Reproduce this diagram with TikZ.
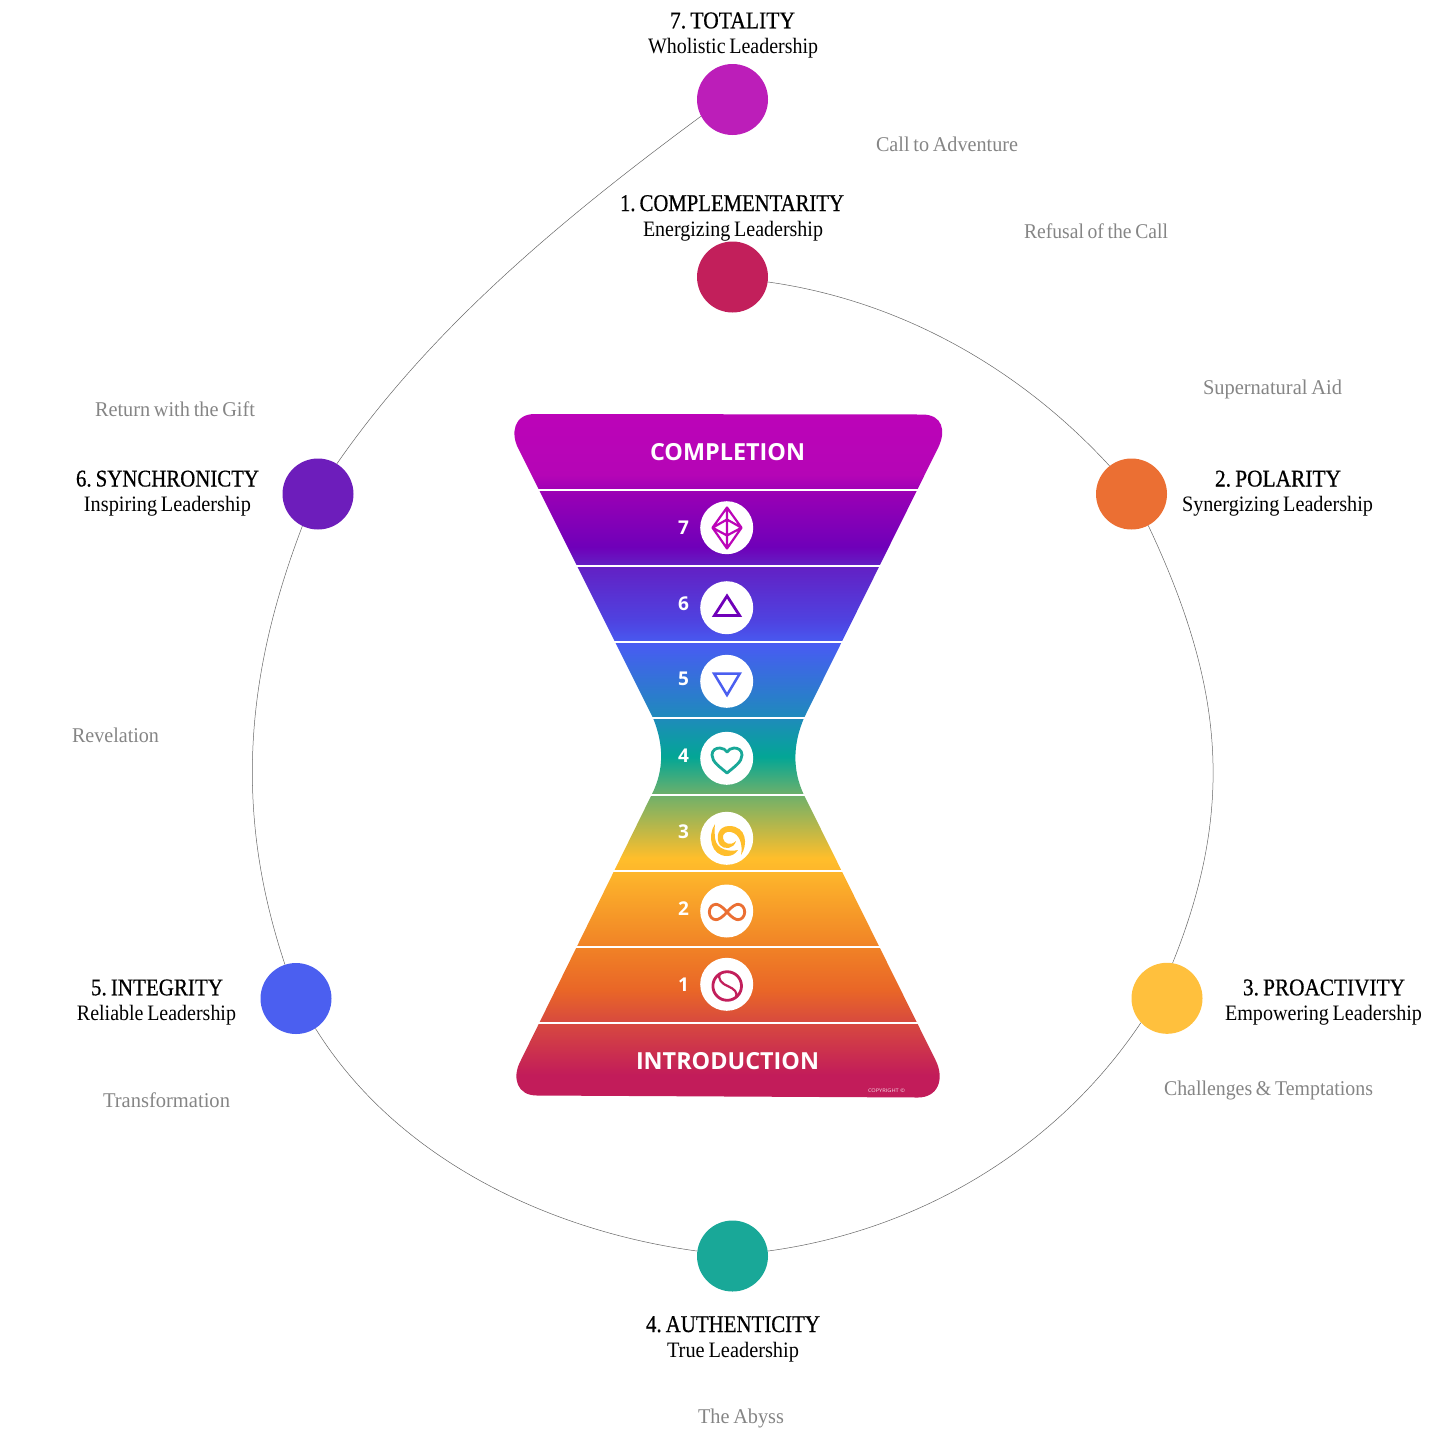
\documentclass[tikz,border=0pt]{standalone}
\usepackage{fontspec}
\usepackage{graphicx}
\setmainfont[WordSpace=0.75]{Liberation Serif}
\newfontfamily\headfont[FakeBold=0.6,WordSpace=0.45]{Liberation Serif}
\newfontfamily\opensans{Open Sans}
\newcommand{\fw}[2]{\resizebox{#1pt}{\height}{#2}}
\definecolor{s01}{HTML}{BC04B8}
\definecolor{s02}{HTML}{B505B6}
\definecolor{s03}{HTML}{9800B5}
\definecolor{s04}{HTML}{6F00B9}
\definecolor{s05}{HTML}{6320C4}
\definecolor{s06}{HTML}{4F42E0}
\definecolor{s07}{HTML}{475CF2}
\definecolor{s08}{HTML}{1E8BBB}
\definecolor{s09}{HTML}{03A695}
\definecolor{s10}{HTML}{6FB06A}
\definecolor{s11}{HTML}{FFBE2B}
\definecolor{s12}{HTML}{FDB42B}
\definecolor{s13}{HTML}{F08026}
\definecolor{s14}{HTML}{E96627}
\definecolor{s15}{HTML}{D7493F}
\definecolor{s16}{HTML}{C21C5A}
\definecolor{c1}{HTML}{C21F5B}
\definecolor{c2}{HTML}{EB6F33}
\definecolor{c3}{HTML}{FFC03D}
\definecolor{c4}{HTML}{19A898}
\definecolor{c5}{HTML}{4B5FF0}
\definecolor{c6}{HTML}{6D1DBB}
\definecolor{c7}{HTML}{BC1EB9}
\definecolor{greylab}{HTML}{858585}
\pgfdeclareverticalshading{hourglass}{100bp}{
 color(0bp)=(s16); color(25bp)=(s16); color(26.65bp)=(s16); color(30.45bp)=(s15);
 color(32.86bp)=(s14); color(35.79bp)=(s13); color(41.28bp)=(s12); color(42.52bp)=(s11);
 color(47.13bp)=(s10); color(49.91bp)=(s09); color(52.76bp)=(s08); color(58.10bp)=(s07);
 color(59.93bp)=(s06); color(63.88bp)=(s05); color(65.27bp)=(s04); color(69.07bp)=(s03);
 color(70.54bp)=(s02); color(75bp)=(s01); color(100bp)=(s01)}
\tikzset{
 dot/.style={circle,minimum size=71pt,inner sep=0pt,draw=none},
 head/.style={inner sep=0pt,anchor=base,font=\headfont\fontsize{24}{26}\selectfont,text=black},
 sub/.style={inner sep=0pt,anchor=base,font=\fontsize{22}{24}\selectfont,text=black},
 stage/.style={inner sep=0pt,anchor=base,font=\fontsize{21}{23}\selectfont,text=greylab},
 link/.style={draw=black!60,line width=0.5pt},
 sep/.style={draw=white,line width=2pt},
 disc/.style={circle,fill=white,minimum size=53pt,inner sep=0pt},
 num/.style={inner sep=0pt,text=white,font=\opensans\bfseries\fontsize{19}{21}\selectfont},
 band/.style={inner sep=0pt,text=white,font=\opensans\bfseries\fontsize{23.5}{26}\selectfont},
 glyph/.style={line width=2.8pt,line join=round,line cap=round},
}
\begin{document}
\begin{tikzpicture}[x=1pt,y=-1pt]
\useasboundingbox (0,0) rectangle (1447,1440);
% outer nodes
\node[dot,fill=c1] (n1) at (732.5,277) {};
\node[dot,fill=c2] (n2) at (1131.5,494) {};
\node[dot,fill=c3] (n3) at (1167,998.3) {};
\node[dot,fill=c4] (n4) at (732.5,1256) {};
\node[dot,fill=c5] (n5) at (296,998.5) {};
\node[dot,fill=c6] (n6) at (318,494) {};
\node[dot,fill=c7] (n7) at (732.5,99.5) {};
% connectors
\draw[link] (n1.-8) .. controls (900,300.5) and (1019.3,367.8) .. (n2.128.7);
\draw[link] (n2.-62.4) .. controls (1221.7,681.2) and (1236.8,803.9) .. (n3.81.4);
\draw[link] (n3.223.5) .. controls (1055.9,1149.5) and (918.5,1230.7) .. (n4.8);
\draw[link] (n4.172) .. controls (547,1230.7) and (396,1158) .. (n5.-57);
\draw[link] (n5.108.4) .. controls (234,811.8) and (245,676.4) .. (n6.244);
\draw[link] (n6.58.3) .. controls (432.7,325.6) and (566.4,215.7) .. (n7.208);
% labels
\node[head] (h7) at (732.5,28.3) {\fw{125}{7. TOTALITY}};
\node[sub] (s7) at (733,53.2) {\fw{170}{Wholistic Leadership}};
\node[head] (h1) at (732,211) {\fw{224}{1. COMPLEMENTARITY}};
\node[sub] (s1) at (733,236) {\fw{180}{Energizing Leadership}};
\node[head] (h2) at (1278,486.5) {\fw{126}{2. POLARITY}};
\node[sub] (s2) at (1277.5,511.5) {\fw{191}{Synergizing Leadership}};
\node[head] (h3) at (1324,995.3) {\fw{162}{3. PROACTIVITY}};
\node[sub] (s3) at (1323.5,1020.3) {\fw{197}{Empowering Leadership}};
\node[head] (h4) at (733,1332) {\fw{174}{4. AUTHENTICITY}};
\node[sub] (s4) at (733,1357) {\fw{132}{True Leadership}};
\node[head] (h5) at (157,995.3) {\fw{132}{5. INTEGRITY}};
\node[sub] (s5) at (156.5,1020.3) {\fw{159}{Reliable Leadership}};
\node[head] (h6) at (167.5,486.5) {\fw{183}{6. SYNCHRONICTY}};
\node[sub] (s6) at (167.5,511.5) {\fw{167}{Inspiring Leadership}};
\node[stage] (t1) at (947,151) {\fw{142}{Call to Adventure}};
\node[stage] (t2) at (1096,238) {\fw{144}{Refusal of the Call}};
\node[stage] (t3) at (1272.5,394) {\fw{139}{Supernatural Aid}};
\node[stage] (t4) at (1268.5,1095) {\fw{209}{Challenges \& Temptations}};
\node[stage] (t5) at (741,1423) {\fw{86}{The Abyss}};
\node[stage] (t6) at (166.5,1107) {\fw{127}{Transformation}};
\node[stage] (t7) at (115.5,742) {\fw{87}{Revelation}};
\node[stage] (t8) at (175,416) {\fw{160}{Return with the Gift}};
% hourglass
\shade[shading=hourglass]
 (535,414) -- (922,414.5) .. controls (943,414.5) and (946,431) .. (938.5,447)
 -- (804,718) .. controls (792.6,745) and (792.6,770) .. (803.5,794)
 -- (935.5,1060) .. controls (945,1079) and (938,1097.5) .. (918,1097.5)
 -- (537,1095.5) .. controls (517,1095.5) and (512,1078) .. (520,1062)
 -- (652,794) .. controls (664,770) and (664,745) .. (653,718)
 -- (518,448) .. controls (511,434) and (513,414) .. (535,414) -- cycle;
\foreach \yy in {490,566,642,718,794.5,870.7,946.7,1023}
  \draw[sep] (500,\yy) -- (955,\yy);
\node[band] (completion) at (727.5,452.3) {\fw{155}{COMPLETION}};
\node[band] (intro) at (727.5,1060.9) {\fw{183}{INTRODUCTION}};
\node[inner sep=0pt,text=white!85!c1,font=\opensans\fontsize{5}{6}\selectfont] (copy) at (886.5,1090.5) {\fw{37}{COPYRIGHT ©}};
% discs
\node[disc] (d7) at (726.7,527.7) {};
\node[disc] (d6) at (726.7,607.7) {};
\node[disc] (d5) at (726.7,681.3) {};
\node[disc] (d4) at (726.7,758.3) {};
\node[disc] (d3) at (726.7,838.3) {};
\node[disc] (d2) at (726.7,911) {};
\node[disc] (d1) at (726.7,984.3) {};
\node[num] (k7) at (683.5,527.9) {7};
\node[num] (k6) at (683.5,603.6) {6};
\node[num] (k5) at (683.5,679.2) {5};
\node[num] (k4) at (683.5,756.2) {4};
\node[num] (k3) at (683.5,831.7) {3};
\node[num] (k2) at (683.5,908.3) {2};
\node[num] (k1) at (683.5,984.3) {1};
% icon 7
\draw[s01,line width=2.2pt,line join=round] (727,507.5) -- (741.5,527.7) -- (727,548.5) -- (712.5,527.7) -- cycle
 (727,507.5) -- (727,548.5)
 (712.5,527.7) -- (727,519.5) -- (741.5,527.7)
 (712.5,527.7) -- (727,535.5) -- (741.5,527.7);
% icon 6
\draw[s04,glyph,line cap=butt,line join=miter] (727,596) -- (739.5,615.4) -- (714.5,615.4) -- cycle;
% icon 5
\draw[c5,glyph,line width=2.5pt,line cap=butt,line join=miter] (714,673.5) -- (739.8,673.5) -- (727,695) -- cycle;
% icon 4
\draw[c4,glyph] (727,773) .. controls (720,767) and (712,762) .. (712,755)
 .. controls (712,750) and (716,748) .. (720,748) .. controls (723,748) and (726,750) .. (727,752)
 .. controls (728,750) and (731,748) .. (734,748) .. controls (738,748) and (742,750) .. (742,755)
 .. controls (742,762) and (734,767) .. (727,773) -- cycle;
% icon 3
\fill[s11] (715,824) .. controls (707,836) and (711,856) .. (727,856) .. controls (732,856) and (735,854) .. (738,850)
 .. controls (730,852) and (716,850) .. (715,838) .. controls (714.5,832) and (714.5,828) .. (715,824) -- cycle;
\fill[s11] (741,855) .. controls (748,845) and (747,826) .. (729,826) .. controls (718,826) and (715,838) .. (720,845)
 .. controls (724,850) and (734,849) .. (736,841) .. controls (731,846) and (724,844) .. (723,838.5)
 .. controls (722,833) and (727,831) .. (731,832) .. controls (740,834) and (743,845) .. (741,855) -- cycle;
% icon 2
\draw[c2,glyph] (727,912) .. controls (722,906) and (718,904.3) .. (716,904.3) .. controls (712,904.3) and (709.3,908) .. (709.3,912)
 .. controls (709.3,916) and (712,919.7) .. (716,919.7) .. controls (718,919.7) and (722,918) .. (727,912)
 .. controls (732,906) and (736,904.3) .. (738,904.3) .. controls (742,904.3) and (744.7,908) .. (744.7,912)
 .. controls (744.7,916) and (742,919.7) .. (738,919.7) .. controls (736,919.7) and (732,918) .. (727,912) -- cycle;
% icon 1
\draw[c1,glyph] (727.2,986) circle[radius=14.3];
\draw[c1,line width=2.2pt] (720,973) .. controls (717,979) and (722,984) .. (728.3,986.3) .. controls (734,989) and (738,992) .. (736,997.3);
\end{tikzpicture}
\end{document}
